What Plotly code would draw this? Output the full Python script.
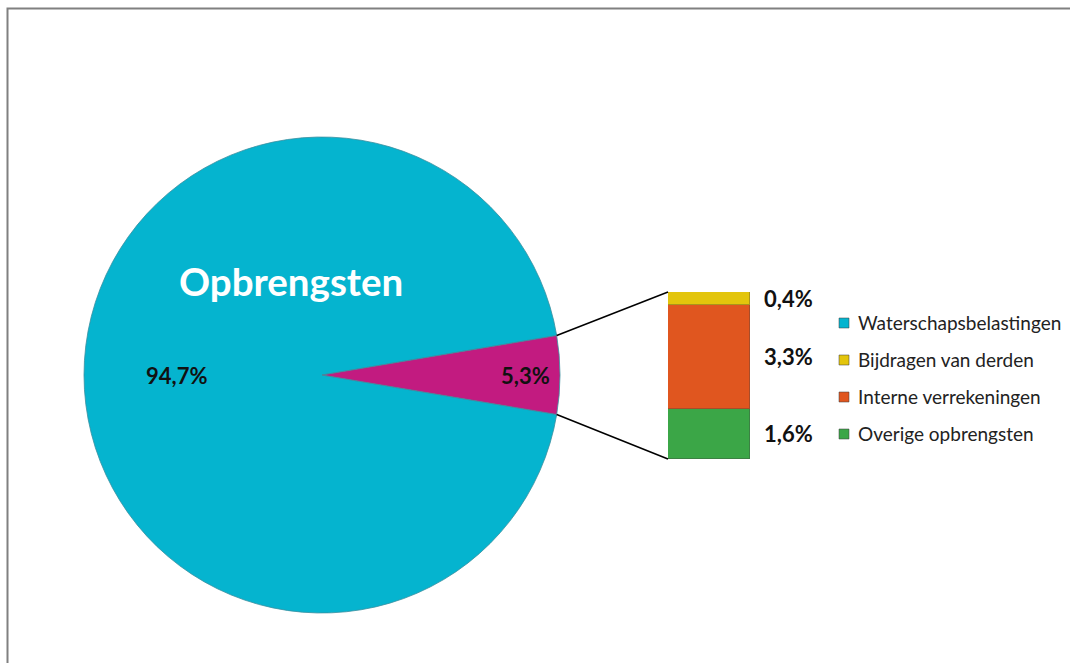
import math
import plotly.graph_objects as go

# ---- data ----
pie_labels = ["Waterschapsbelastingen", "Overig"]
pie_values = [94.7, 5.3]
pie_colors = ["#05B4CF", "#C21B80"]

bar_labels = ["Overige opbrengsten", "Interne verrekeningen", "Bijdragen van derden"]
bar_values = [1.6, 3.3, 0.4]
bar_colors = ["#3BA647", "#E0561F", "#E3C50C"]

legend_labels = ["Waterschapsbelastingen", "Bijdragen van derden",
                 "Interne verrekeningen", "Overige opbrengsten"]
legend_colors = ["#05B4CF", "#E3C50C", "#E0561F", "#3BA647"]

title_text = "Opbrengsten"

W, H = 1070, 663
FONT = "Lato"

def fmt(v):
    return f"{v:.1f}".replace(".", ",") + "%"

# pie geometry (pixels)
cx, cy, r = 322, 375, 238
pie_dom_x = [(cx - r) / W, (cx + r) / W]
pie_dom_y = [1 - (cy + r) / H, 1 - (cy - r) / H]

total = sum(pie_values)
small_frac = pie_values[1] / total
half_angle = small_frac * 360 / 2
rotation = 90 + half_angle  # small slice centered at 3 o'clock

# bar geometry (pixels)
bx0, bx1 = 668, 750
by_top, by_bot = 292, 459

fig = go.Figure()

fig.add_trace(go.Pie(
    labels=pie_labels, values=pie_values, sort=False, direction="clockwise",
    rotation=rotation, domain=dict(x=pie_dom_x, y=pie_dom_y),
    marker=dict(colors=pie_colors, line=dict(color="#3a8fa0", width=0.8)),
    textinfo="none", hoverinfo="label+percent", showlegend=False,
))

for lab, val, col in zip(bar_labels, bar_values, bar_colors):
    fig.add_trace(go.Bar(
        x=[0], y=[val], name=lab, width=1, showlegend=False,
        marker=dict(color=col, line=dict(color="rgba(60,60,60,0.35)", width=1)),
    ))

# bar labels
cum = 0
for val in bar_values:
    fig.add_annotation(
        x=0.5, y=cum + val / 2, xref="x", yref="y", xanchor="left", yanchor="middle",
        xshift=12, text=f"<b>{fmt(val)}</b>", showarrow=False,
        font=dict(family=FONT, size=22, color="#111"),
    )
    cum += val

# pie labels
for val, ang, rr in [(pie_values[0], 180, 0.61), (pie_values[1], 0, 0.855)]:
    px = cx + rr * r * math.cos(math.radians(ang))
    py = cy - rr * r * math.sin(math.radians(ang))
    fig.add_annotation(
        x=px / W, y=1 - py / H, xref="paper", yref="paper",
        xanchor="center", yanchor="middle",
        text=f"<b>{fmt(val)}</b>", showarrow=False,
        font=dict(family=FONT, size=22, color="#111"),
    )

fig.add_annotation(
    x=291 / W, y=1 - 281 / H, xref="paper", yref="paper",
    xanchor="center", yanchor="middle",
    text=f"<b>{title_text}</b>", showarrow=False,
    font=dict(family=FONT, size=38.5, color="white"),
)

# manual legend
leg_x, leg_y0, leg_dy, sq = 839, 323, 37, 10
for i, (lab, col) in enumerate(zip(legend_labels, legend_colors)):
    yc = leg_y0 + i * leg_dy
    fig.add_shape(type="rect", xref="paper", yref="paper",
                  x0=leg_x / W, x1=(leg_x + sq) / W,
                  y0=1 - (yc + sq / 2) / H, y1=1 - (yc - sq / 2) / H,
                  fillcolor=col, line=dict(color="rgba(60,60,60,0.5)", width=1))
    fig.add_annotation(
        x=(leg_x + sq + 7) / W, y=1 - (yc - 1) / H, xref="paper", yref="paper",
        xanchor="left", yanchor="middle", text=lab, showarrow=False,
        font=dict(family=FONT, size=19, color="#222"),
    )

# connector lines from pie slice edges to bar
for sign, by in [(1, by_top), (-1, by_bot)]:
    ex = cx + r * math.cos(math.radians(half_angle))
    ey = cy - sign * r * math.sin(math.radians(half_angle))
    fig.add_shape(type="line", xref="paper", yref="paper",
                  x0=ex / W, y0=1 - ey / H, x1=bx0 / W, y1=1 - by / H,
                  line=dict(color="black", width=1.5))

# chart border
fig.add_shape(type="rect", xref="paper", yref="paper",
              x0=7.5 / W, y0=-0.05, x1=1.05, y1=1 - 8.5 / H,
              line=dict(color="#808080", width=2))

fig.update_layout(
    width=W, height=H, margin=dict(l=0, r=0, t=0, b=0),
    paper_bgcolor="white", plot_bgcolor="white",
    barmode="stack", bargap=0, showlegend=False,
    xaxis=dict(domain=[bx0 / W, bx1 / W], range=[-0.5, 0.5], visible=False, fixedrange=True),
    yaxis=dict(domain=[1 - by_bot / H, 1 - by_top / H], range=[0, sum(bar_values)],
               visible=False, fixedrange=True),
)

fig.write_html(
    "out.html",
    config={"displayModeBar": False},
    post_script="document.body.style.margin='0';document.body.style.overflow='hidden';",
)
